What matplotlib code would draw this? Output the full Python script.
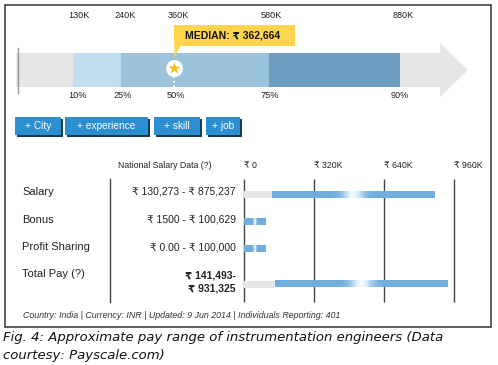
import numpy as np
import matplotlib.pyplot as plt
from matplotlib.patches import Rectangle, Polygon

plt.rcParams['font.family'] = ['Liberation Sans', 'DejaVu Sans']

# percentile strip
pct_labels = ['10%', '25%', '50%', '75%', '90%']
pct_values = [130, 240, 362.664, 580, 880]          # in K
top_labels = ['130K', '240K', '360K', '580K', '880K']
median_text = 'MEDIAN: ₹ 362,664'

# national salary table
rows = ['Salary', 'Bonus', 'Profit Sharing', 'Total Pay (?)']
low = [130.273, 1.5, 0.0, 141.493]                  # in K
high = [875.237, 100.629, 100.0, 931.325]
range_text = ['₹ 130,273 - ₹ 875,237', '₹ 1500 - ₹ 100,629',
              '₹ 0.00 - ₹ 100,000', '₹ 141,493-\n₹ 931,325']
ticks = [0, 320, 640, 960]
tick_labels = ['₹ 0', '₹ 320K', '₹ 640K', '₹ 960K']
buttons = ['+ City', '+ experience', '+ skill', '+ job']

W, H = 498, 365
fig = plt.figure(figsize=(W / 100, H / 100), dpi=100)


def px_axes(x0, y0, x1, y1):
    return fig.add_axes([x0 / W, 1 - y1 / H, (x1 - x0) / W, (y1 - y0) / H])


# background / layout axes in pixel units
ax0 = px_axes(0, 0, W, H)
ax0.set_xlim(0, W)
ax0.set_ylim(H, 0)
ax0.axis('off')
ax0.add_patch(Rectangle((5, 5), 486, 322, fill=False, ec='#444444', lw=1.2))

# ---- top percentile arrow ----
scale = 0.436  # px per K
ax1 = px_axes(16.3, 5, 480, 110)
ax1.set_xlim(0, (480 - 16.3) / scale)
ax1.set_ylim(110, 5)
ax1.axis('off')
arrow_base = (440 - 16.3) / scale
arrow_tip = (468 - 16.3) / scale
bounds = [0, pct_values[0], pct_values[1], pct_values[3], pct_values[4], arrow_base]
seg_colors = ['#e6e6e6', '#c3deed', '#9bc4dc', '#6f9fc0', '#e6e6e6']
for i in range(5):
    ax1.barh(70, bounds[i + 1] - bounds[i], left=bounds[i], height=34,
             color=seg_colors[i], lw=0)
ax1.add_patch(Polygon([(arrow_base, 43), (arrow_tip, 70), (arrow_base, 97)],
                      closed=True, color='#e6e6e6', lw=0))
ax1.plot([4, 4], [48, 93], color='#999999', lw=1)
top_off = [14, 10, 8, 4, 7]
pct_off = [11, 3, 3, 1, 0]
for i, v in enumerate(pct_values):
    ax1.text(v + top_off[i], 16, top_labels[i], ha='center', va='center',
             fontsize=6.6, color='#222222')
    ax1.text(v + pct_off[i], 95, pct_labels[i], ha='center', va='center',
             fontsize=6.6, color='#222222')

median = pct_values[2]
ax1.plot([median, median], [76, 87], color='white', ls=':', lw=1.3)
ax1.add_patch(Rectangle((median, 25), 121 / scale, 21, color='#ffd44f', lw=0))
ax1.add_patch(Polygon([(median, 45), (median + 14, 45), (median, 58)],
                      closed=True, color='#ffd44f', lw=0))
ax1.scatter([median], [68], s=150, color='white', zorder=5, lw=0)
ax1.scatter([median], [68], s=85, marker='*', color='#f5c21b', zorder=6, lw=0)
ax1.text(median + 11 / scale, 35.5, median_text, ha='left', va='center',
         fontsize=7.5, fontweight='bold', color='#111111')

# ---- buttons ----
btn_x = [(15, 61), (65, 148), (154, 200), (206, 240)]
for (x0, x1), lab in zip(btn_x, buttons):
    ax0.add_patch(Rectangle((x0 + 1.5, 118.5), x1 - x0, 18, color='#1d3950', lw=0))
    ax0.add_patch(Rectangle((x0, 117), x1 - x0, 18, color='#2b8fd2', lw=0))
    ax0.text((x0 + x1) / 2, 126, lab, ha='center', va='center', fontsize=7.3,
             color='white')

# ---- table ----
ax0.text(165, 166, 'National Salary Data (?)', ha='center', va='center',
         fontsize=6.3, color='#222222')
ax0.plot([110, 110], [179, 302], color='#444444', lw=1)
row_y = [194.5, 222, 249, 284]
label_y = [192, 220, 247, 274]
for i, name in enumerate(rows):
    ax0.text(22, label_y[i], name, ha='left', va='center', fontsize=8, color='#222222')
    if i == 3:
        ax0.text(236, 282, range_text[i], ha='right', va='center', fontsize=7.5,
                 fontweight='bold', color='#222222', linespacing=1.4)
    else:
        ax0.text(236, label_y[i], range_text[i], ha='right', va='center',
                 fontsize=7.5, color='#222222')

ax2 = px_axes(244, 179, 454, 302)
ax2.set_xlim(0, 960)
ax2.set_ylim(302, 179)
ax2.axis('off')
ax2.vlines(ticks, 179, 302, color='#444444', lw=1, zorder=1, clip_on=False)
for t, tl in zip(ticks, tick_labels):
    ax2.text(t - 2, 166, tl, ha='left', va='center', fontsize=6.3,
             color='#222222', clip_on=False)

blue = np.array([0.44, 0.68, 0.87])
xs = np.linspace(0, 1, 300)
for lo, hi, yc in zip(low, high, row_y):
    if lo > 5:
        ax2.barh(yc, lo, left=0, height=7, color='#e6e6e6', lw=0, zorder=2)
    w = 0.92 * np.exp(-0.5 * ((xs - 0.5) / 0.045) ** 2)
    img = blue[None, :] * (1 - w[:, None]) + w[:, None]
    ax2.imshow(img[None, :, :], extent=(lo, hi, yc + 3.5, yc - 3.5),
               aspect='auto', zorder=3, interpolation='bilinear')
ax2.set_xlim(0, 960)
ax2.set_ylim(302, 179)

# ---- footer & caption ----
ax0.text(23, 315, 'Country: India | Currency: INR | Updated: 9 Jun 2014 | '
         'Individuals Reporting: 401', ha='left', va='center', fontsize=6.4,
         style='italic', color='#333333')
ax0.text(3, 338, 'Fig. 4: Approximate pay range of instrumentation engineers (Data',
         ha='left', va='center', fontsize=9.5, style='italic',
         family='DejaVu Sans', color='#111111')
ax0.text(3, 356, 'courtesy: Payscale.com)', ha='left', va='center', fontsize=9.5,
         style='italic', family='DejaVu Sans', color='#111111')

fig.savefig('out.png', dpi=100)
